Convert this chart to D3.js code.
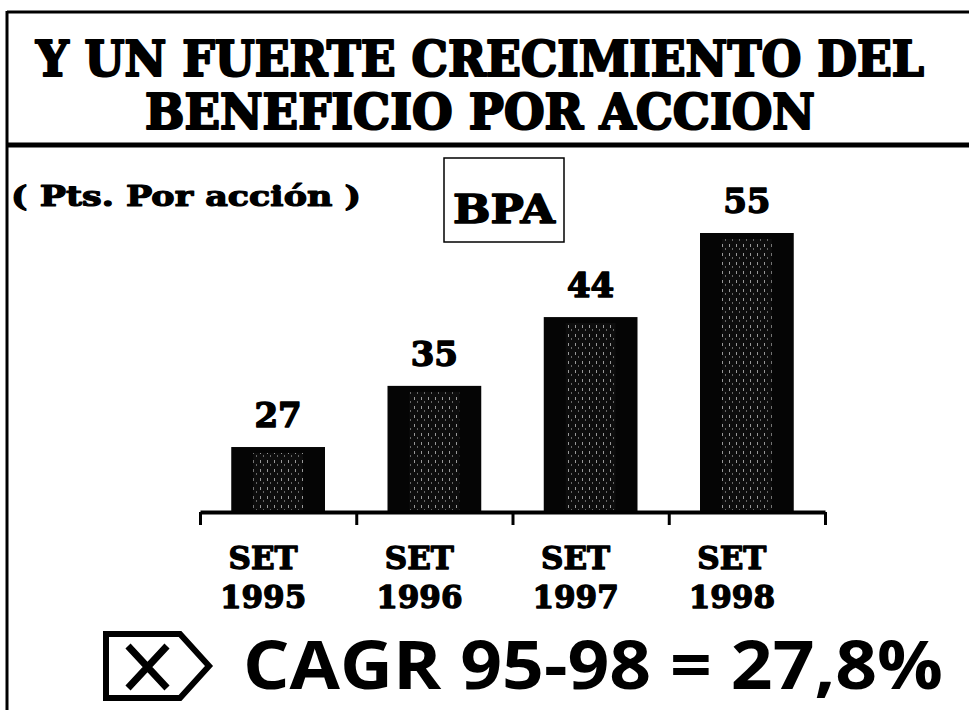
<!DOCTYPE html>
<html>
<head>
<meta charset="utf-8">
<script src="https://cdn.jsdelivr.net/npm/d3@7"></script>
<style>
  html, body { margin: 0; padding: 0; background: #fff; }
  svg { display: block; }
</style>
</head>
<body>
<svg id="chart" width="969" height="710"></svg>
<script>
// datos
const categorias = ["1995", "1996", "1997", "1998"];
const prefijo = "SET";
const bpa = [27, 35, 44, 55];
const titulo = ["Y UN FUERTE CRECIMIENTO DEL", "BENEFICIO POR ACCION"];
const unidad = "( Pts. Por acción )";
const serie = "BPA";
const cagr = "CAGR 95-98 = 27,8%";

const svg = d3.select("#chart");
const serif = "'DejaVu Serif', serif";

// texto grueso tipo "slab"
function grueso(sel, w) {
    return sel.attr("font-family", serif).attr("font-weight", "bold")
        .attr("stroke", "#000").attr("stroke-width", w).attr("stroke-linejoin", "round");
}

// marco
svg.append("line").attr("x1", 7).attr("x2", 969).attr("y1", 12).attr("y2", 12)
    .attr("stroke", "#000").attr("stroke-width", 3);
svg.append("line").attr("x1", 7).attr("x2", 969).attr("y1", 145).attr("y2", 145)
    .attr("stroke", "#000").attr("stroke-width", 5);
svg.append("line").attr("x1", 7).attr("x2", 7).attr("y1", 11).attr("y2", 710)
    .attr("stroke", "#000").attr("stroke-width", 3);

// titulo
svg.selectAll("text.titulo").data(titulo).join("text")
    .attr("class", "titulo")
    .attr("x", 480).attr("y", (d, i) => 76 + i * 53)
    .attr("text-anchor", "middle")
    .attr("font-size", 48)
    .attr("textLength", (d, i) => i === 0 ? 888 : 670).attr("lengthAdjust", "spacingAndGlyphs")
    .text(d => d)
    .call(grueso, 2.2);

// unidad
svg.append("text").attr("x", 11).attr("y", 206)
    .attr("font-size", 28)
    .attr("textLength", 350).attr("lengthAdjust", "spacingAndGlyphs")
    .text(unidad)
    .call(grueso, 1.2);

// caja BPA
svg.append("rect").attr("x", 444).attr("y", 158).attr("width", 120).attr("height", 84)
    .attr("fill", "none").attr("stroke", "#000").attr("stroke-width", 1.5);
svg.append("text").attr("x", 504).attr("y", 223).attr("text-anchor", "middle")
    .attr("font-size", 40)
    .attr("textLength", 102).attr("lengthAdjust", "spacingAndGlyphs")
    .text(serie)
    .call(grueso, 1.5);

// escalas
const x = d3.scaleBand().domain(categorias).range([200, 825]).paddingInner(0.4).paddingOuter(0.2);
const y = d3.scaleLinear().domain([18.5, 55]).range([512, 233]);

// textura de las barras
const defs = svg.append("defs");
const pat = defs.append("pattern").attr("id", "grano")
    .attr("width", 7).attr("height", 9).attr("patternUnits", "userSpaceOnUse");
pat.append("rect").attr("width", 7).attr("height", 9).attr("fill", "#0d0d0d");
pat.append("rect").attr("x", 1).attr("y", 1).attr("width", 1).attr("height", 3).attr("fill", "#999");
pat.append("rect").attr("x", 4).attr("y", 5).attr("width", 1).attr("height", 2).attr("fill", "#666");

const barras = svg.append("g");
barras.selectAll("rect.barra").data(bpa).join("rect")
    .attr("class", "barra")
    .attr("x", (d, i) => x(categorias[i]))
    .attr("y", d => y(d))
    .attr("width", x.bandwidth())
    .attr("height", d => y.range()[0] - y(d))
    .attr("fill", "#050505");
barras.selectAll("rect.grano").data(bpa).join("rect")
    .attr("class", "grano")
    .attr("x", (d, i) => x(categorias[i]) + 22)
    .attr("y", d => y(d) + 6)
    .attr("width", x.bandwidth() - 44)
    .attr("height", d => y.range()[0] - y(d) - 8)
    .attr("fill", "url(#grano)");

// etiquetas de valor
svg.selectAll("text.valor").data(bpa).join("text")
    .attr("class", "valor")
    .attr("x", (d, i) => x(categorias[i]) + x.bandwidth() / 2)
    .attr("y", d => y(d) - 20)
    .attr("text-anchor", "middle")
    .attr("font-size", 34)
    .text(d => d)
    .call(grueso, 1.5);

// eje x con marcas en los limites
const xl = d3.scaleLinear().domain([0, categorias.length]).range(x.range());
const eje = svg.append("g").attr("transform", `translate(0,${y.range()[0]})`)
    .call(d3.axisBottom(xl).ticks(categorias.length).tickFormat("").tickSize(13).tickSizeOuter(0));
eje.select(".domain").attr("stroke-width", 4);
eje.selectAll(".tick line").attr("stroke-width", 3);

// categorias
const cat = svg.selectAll("text.cat").data(categorias).join("text")
    .attr("class", "cat")
    .attr("text-anchor", "middle")
    .attr("font-size", 31)
    .call(grueso, 1.3);
cat.append("tspan").attr("x", d => x(d) + x.bandwidth() / 2 - 15).attr("y", 569).text(prefijo);
cat.append("tspan").attr("x", d => x(d) + x.bandwidth() / 2 - 15).attr("y", 608).text(d => d);

// icono y CAGR
svg.append("path")
    .attr("d", "M106,634 L180,634 L209,666 L180,698 L106,698 Z")
    .attr("fill", "none").attr("stroke", "#000").attr("stroke-width", 6).attr("stroke-linejoin", "miter");
svg.append("path")
    .attr("d", "M128,646 L167,688 M167,646 L128,688")
    .attr("stroke", "#000").attr("stroke-width", 7);
svg.append("text").attr("x", 243).attr("y", 689)
    .attr("font-family", "'Open Sans', sans-serif").attr("font-weight", "bold").attr("font-size", 66)
    .attr("textLength", 700).attr("lengthAdjust", "spacingAndGlyphs")
    .text(cagr);
</script>
</body>
</html>
